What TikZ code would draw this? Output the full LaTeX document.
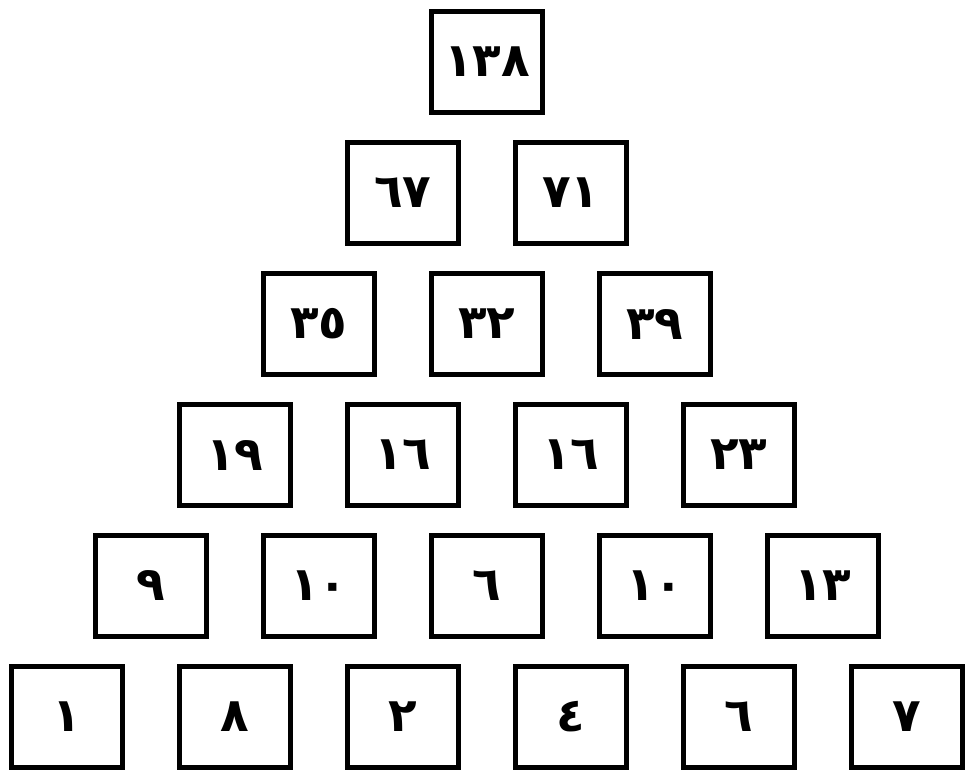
\documentclass[tikz,border=0pt]{standalone}
\usepackage{fontspec}
\newfontfamily\arabicfont[Script=Arabic]{DejaVu Sans}
\usepackage{tikz}

\begin{document}
\begin{tikzpicture}[
  numbox/.style={draw, line width=4.2pt, minimum width=3.33cm, minimum height=3.03cm, inner sep=0pt,
    font=\arabicfont\bfseries\fontsize{40}{44}\selectfont}]
  \useasboundingbox (0,0) rectangle (28.95,23.16);
  % row 0 is the bottom row, each box sits between the two below it
  \foreach \r/\i/\v in {0/0/١, 0/1/٨, 0/2/٢, 0/3/٤, 0/4/٦, 0/5/٧,
                        1/0/٩, 1/1/١٠, 1/2/٦, 1/3/١٠, 1/4/١٣,
                        2/0/١٩, 2/1/١٦, 2/2/١٦, 2/3/٢٣,
                        3/0/٣٥, 3/1/٣٢, 3/2/٣٩,
                        4/0/٦٧, 4/1/٧١,
                        5/0/١٣٨}
    \node[numbox] (n\r\i) at ({(67+84*\r+168*\i)*0.03}, {(55+131*\r)*0.03}) {\v};
\end{tikzpicture}
\end{document}
